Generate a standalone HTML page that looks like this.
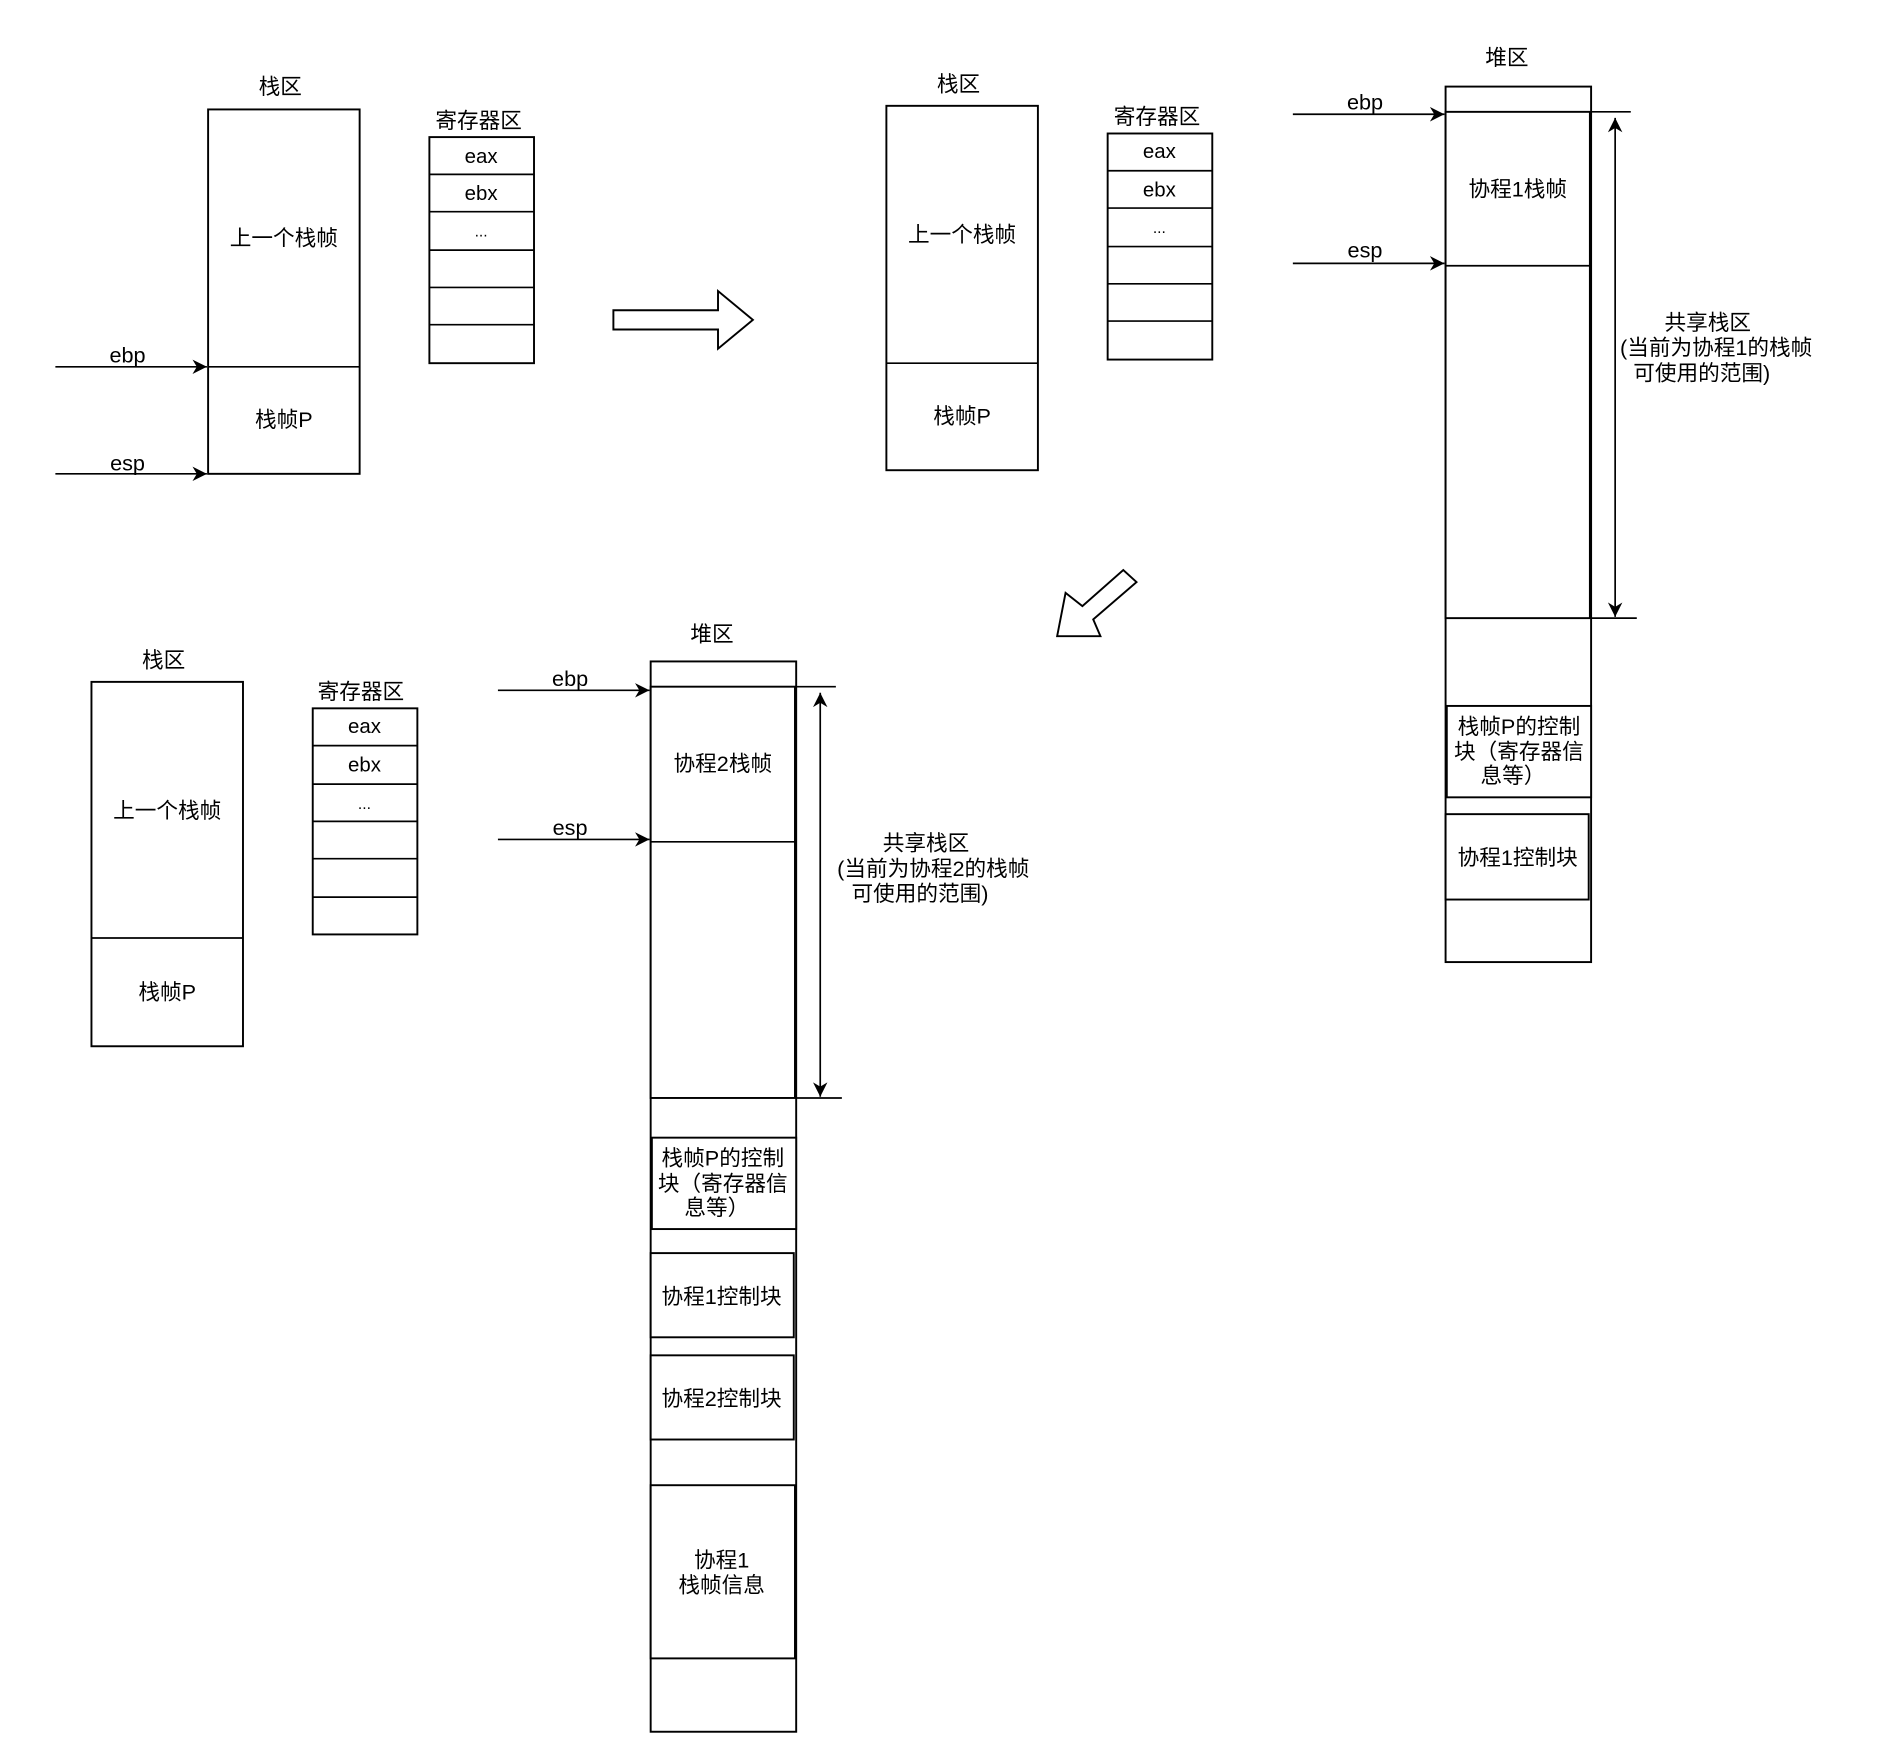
<!DOCTYPE html>
<html><head><meta charset="utf-8"><style>
html,body{margin:0;padding:0;background:#fff;}
svg{display:block;}
text{font-family:"Liberation Sans","Noto Sans CJK SC",sans-serif;font-size:18px;fill:#000;text-anchor:middle;dominant-baseline:central;}
.r{fill:#fff;stroke:#000;stroke-width:1.6;}
.l{stroke:#000;stroke-width:1.4;fill:none;}
</style></head><body>
<svg width="1887" height="1757" viewBox="0 0 1569 1461" xmlns="http://www.w3.org/2000/svg">
<defs>
<marker id="a" viewBox="0 0 10 10" refX="10" refY="5" markerWidth="12" markerHeight="12" markerUnits="userSpaceOnUse" orient="auto-start-reverse"><path d="M0,0 L10,5 L0,10 L3,5 z" fill="#000"/></marker>
</defs>

<!-- Top-left -->
<text x="233" y="72">栈区</text>
<rect class="r" x="173" y="91" width="126" height="303"/>
<line class="l" x1="173" y1="305" x2="299" y2="305"/>
<text x="236" y="198">上一个栈帧</text>
<text x="236" y="349">栈帧P</text>
<line class="l" x1="46" y1="305" x2="172" y2="305" marker-end="url(#a)"/>
<text x="106" y="295">ebp</text>
<line class="l" x1="46" y1="394" x2="172" y2="394" marker-end="url(#a)"/>
<text x="106" y="385">esp</text>
<text x="398" y="100">寄存器区</text>
<rect class="r" x="357" y="114" width="87" height="188"/>
<line class="l" x1="357" y1="145" x2="444" y2="145"/>
<line class="l" x1="357" y1="176" x2="444" y2="176"/>
<line class="l" x1="357" y1="208" x2="444" y2="208"/>
<line class="l" x1="357" y1="239" x2="444" y2="239"/>
<line class="l" x1="357" y1="270" x2="444" y2="270"/>
<text x="400" y="130" style="font-size:17px">eax</text>
<text x="400" y="161" style="font-size:17px">ebx</text>
<text x="400" y="193" style="font-size:13px">...</text>

<polygon class="r" points="510,258 597,258 597,242 626,266 597,290 597,274 510,274"/>

<!-- Top-middle -->
<text x="797" y="70">栈区</text>
<rect class="r" x="737" y="88" width="126" height="303"/>
<line class="l" x1="737" y1="302" x2="863" y2="302"/>
<text x="800" y="195">上一个栈帧</text>
<text x="800" y="346">栈帧P</text>
<text x="962" y="97">寄存器区</text>
<rect class="r" x="921" y="111" width="87" height="188"/>
<line class="l" x1="921" y1="142" x2="1008" y2="142"/>
<line class="l" x1="921" y1="173" x2="1008" y2="173"/>
<line class="l" x1="921" y1="205" x2="1008" y2="205"/>
<line class="l" x1="921" y1="236" x2="1008" y2="236"/>
<line class="l" x1="921" y1="267" x2="1008" y2="267"/>
<text x="964" y="126" style="font-size:17px">eax</text>
<text x="964" y="158" style="font-size:17px">ebx</text>
<text x="964" y="190" style="font-size:13px">...</text>

<!-- Right heap -->
<text x="1253" y="48">堆区</text>
<rect class="r" x="1202" y="72" width="121" height="728"/>
<rect class="r" x="1202" y="93" width="120" height="421"/>
<line class="l" x1="1322" y1="93" x2="1356" y2="93"/>
<line class="l" x1="1322" y1="514" x2="1361" y2="514"/>
<line class="l" x1="1202" y1="221" x2="1322" y2="221"/>
<text x="1262" y="157">协程1栈帧</text>
<line class="l" x1="1075" y1="95" x2="1201" y2="95" marker-end="url(#a)"/>
<text x="1135" y="85">ebp</text>
<line class="l" x1="1075" y1="219" x2="1201" y2="219" marker-end="url(#a)"/>
<text x="1135" y="208">esp</text>
<line class="l" x1="1343" y1="98" x2="1343" y2="513" marker-start="url(#a)" marker-end="url(#a)"/>
<text x="1420" y="268">共享栈区</text>
<text x="1427" y="289">(当前为协程1的栈帧</text>
<text x="1415" y="310">可使用的范围)</text>
<rect class="r" x="1203" y="587" width="120" height="76"/>
<text x="1263" y="604">栈帧P的控制</text>
<text x="1263" y="625">块（寄存器信</text>
<text x="1258" y="645">息等）</text>
<rect class="r" x="1202" y="677" width="119" height="71"/>
<text x="1262" y="713">协程1控制块</text>

<polygon class="r" points="879,529 886,493 900,504 934,474 945,484 909,515 915,529"/>

<!-- Bottom-left -->
<text x="136" y="549">栈区</text>
<rect class="r" x="76" y="567" width="126" height="303"/>
<line class="l" x1="76" y1="780" x2="202" y2="780"/>
<text x="139" y="674">上一个栈帧</text>
<text x="139" y="825">栈帧P</text>
<text x="300" y="575">寄存器区</text>
<rect class="r" x="260" y="589" width="87" height="188"/>
<line class="l" x1="260" y1="620" x2="347" y2="620"/>
<line class="l" x1="260" y1="652" x2="347" y2="652"/>
<line class="l" x1="260" y1="683" x2="347" y2="683"/>
<line class="l" x1="260" y1="714" x2="347" y2="714"/>
<line class="l" x1="260" y1="746" x2="347" y2="746"/>
<text x="303" y="604" style="font-size:17px">eax</text>
<text x="303" y="636" style="font-size:17px">ebx</text>
<text x="303" y="669" style="font-size:13px">...</text>

<!-- Bottom heap -->
<text x="592" y="527">堆区</text>
<rect class="r" x="541" y="550" width="121" height="890"/>
<rect class="r" x="541" y="571" width="120" height="342"/>
<line class="l" x1="661" y1="571" x2="695" y2="571"/>
<line class="l" x1="661" y1="913" x2="700" y2="913"/>
<line class="l" x1="541" y1="700" x2="661" y2="700"/>
<text x="601" y="635">协程2栈帧</text>
<line class="l" x1="414" y1="574" x2="540" y2="574" marker-end="url(#a)"/>
<text x="474" y="564">ebp</text>
<line class="l" x1="414" y1="698" x2="540" y2="698" marker-end="url(#a)"/>
<text x="474" y="688">esp</text>
<line class="l" x1="682" y1="576" x2="682" y2="912" marker-start="url(#a)" marker-end="url(#a)"/>
<text x="770" y="701">共享栈区</text>
<text x="776" y="722">(当前为协程2的栈帧</text>
<text x="765" y="743">可使用的范围)</text>
<rect class="r" x="542" y="946" width="120" height="76"/>
<text x="601" y="963">栈帧P的控制</text>
<text x="601" y="984">块（寄存器信</text>
<text x="596" y="1004">息等）</text>
<rect class="r" x="541" y="1042" width="119" height="70"/>
<text x="600" y="1078">协程1控制块</text>
<rect class="r" x="541" y="1127" width="119" height="70"/>
<text x="600" y="1163">协程2控制块</text>
<rect class="r" x="541" y="1235" width="120" height="144"/>
<text x="600" y="1297">协程1</text>
<text x="600" y="1318">栈帧信息</text>
</svg>
</body></html>
